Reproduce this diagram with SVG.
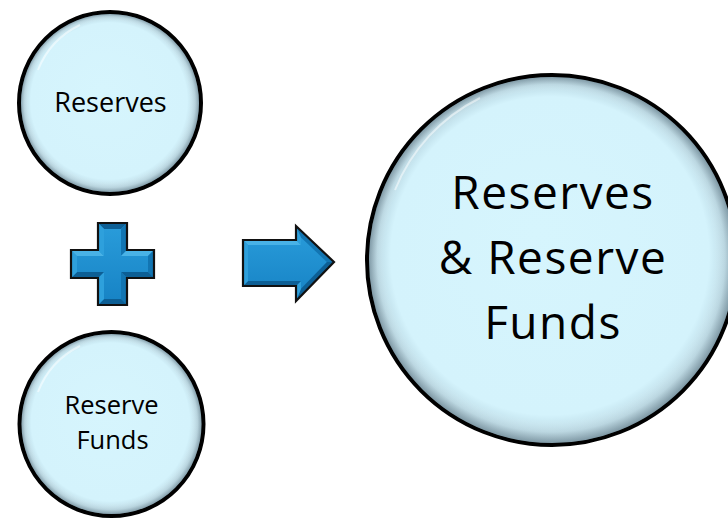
<svg xmlns="http://www.w3.org/2000/svg" width="728" height="518" viewBox="0 0 728 518">
  <style>
    .bubble { fill: url(#bubbleFill); stroke: #000; stroke-width: 4; }
    .rim { fill: url(#bubbleRim); }
    .gloss { fill: none; stroke: #ffffff; stroke-width: 2; opacity: 0.5; }
    .label { font-family: "Open Sans", "Noto Sans", "Liberation Sans", sans-serif; fill: #000; text-anchor: middle; }
    .small { font-size: 27px; }
    .small2 { font-size: 25.5px; }
    .big { font-size: 46px; letter-spacing: 1.5px; }
    .shape-outline { fill: none; stroke: #111; stroke-width: 2.2; stroke-linejoin: miter; }
    .face { fill: url(#blueFace); }
    .bev-top { fill: #49b2e6; }
    .bev-left { fill: #2ea0dc; }
    .bev-right { fill: #1275b2; }
    .bev-bottom { fill: #0d5f95; }
  </style>
  <defs>
    <radialGradient id="bubbleFill" cx="0.5" cy="0.5" r="0.5" fx="0.46" fy="0.42">
      <stop offset="0" stop-color="#d6f5fd"/>
      <stop offset="0.86" stop-color="#d4f3fc"/>
      <stop offset="0.94" stop-color="#bcdbe6"/>
      <stop offset="1" stop-color="#7d97a4"/>
    </radialGradient>
    <radialGradient id="bubbleRim" cx="0.5" cy="0.5" r="0.5" fx="0.42" fy="0.38">
      <stop offset="0.9" stop-color="#ffffff" stop-opacity="0"/>
      <stop offset="1" stop-color="#6f8894" stop-opacity="0.35"/>
    </radialGradient>
    <linearGradient id="blueFace" x1="0" y1="0" x2="0" y2="1">
      <stop offset="0" stop-color="#2a9ddb"/>
      <stop offset="1" stop-color="#1682c4"/>
    </linearGradient>
  </defs>

  <!-- left operand: Reserves -->
  <g id="node-reserves">
    <circle class="bubble" cx="110" cy="103" r="91"/>
    <circle class="rim" cx="110" cy="103" r="89"/>
    <path class="gloss" d="M 38 70 A 84 84 0 0 1 80 25"/>
    <text class="label small" x="110.5" y="112">Reserves</text>
  </g>

  <!-- left operand: Reserve Funds -->
  <g id="node-reserve-funds">
    <circle class="bubble" cx="111.5" cy="424" r="92"/>
    <circle class="rim" cx="111.5" cy="424" r="90"/>
    <path class="gloss" d="M 38 392 A 85 85 0 0 1 80 346"/>
    <text class="label small2"><tspan x="111.5" y="414">Reserve</tspan><tspan x="112.5" y="449">Funds</tspan></text>
  </g>

  <!-- result: Reserves & Reserve Funds -->
  <g id="node-result">
    <circle class="bubble" cx="552" cy="260" r="185"/>
    <circle class="rim" cx="552" cy="260" r="183"/>
    <path class="gloss" d="M 395 190 A 176 176 0 0 1 480 98"/>
    <text class="label big"><tspan x="553" y="209">Reserves</tspan><tspan x="553" y="274">&amp; Reserve</tspan><tspan x="553" y="339">Funds</tspan></text>
  </g>

  <!-- operators between the bubbles -->
  <g id="connectors">
    <g id="plus-sign">
      <polygon class="face" points="98,223 127,223 127,250 154,250 154,278 127,278 127,305 98,305 98,278 71,278 71,250 98,250"/>
      <!-- bevel facets -->
      <polygon class="bev-bottom" points="98,223 127,223 121,229 104,229"/>
      <polygon class="bev-right" points="127,223 127,250 121,256 121,229"/>
      <polygon class="bev-top" points="127,250 154,250 148,256 121,256"/>
      <polygon class="bev-right" points="154,250 154,278 148,272 148,256"/>
      <polygon class="bev-bottom" points="154,278 127,278 121,272 148,272"/>
      <polygon class="bev-right" points="127,278 127,305 121,299 121,272"/>
      <polygon class="bev-bottom" points="127,305 98,305 104,299 121,299"/>
      <polygon class="bev-left" points="98,305 98,278 104,272 104,299"/>
      <polygon class="bev-bottom" points="98,278 71,278 77,272 104,272"/>
      <polygon class="bev-left" points="71,278 71,250 77,256 77,272"/>
      <polygon class="bev-top" points="71,250 98,250 104,256 77,256"/>
      <polygon class="bev-left" points="98,250 98,223 104,229 104,256"/>
      <polygon class="shape-outline" points="98,223 127,223 127,250 154,250 154,278 127,278 127,305 98,305 98,278 71,278 71,250 98,250"/>
    </g>
    <g id="arrow">
      <polygon class="face" points="243,240 296,240 296,226 334,262 296,301 296,286 243,286"/>
      <!-- bevel facets -->
      <polygon class="bev-top" points="243,240 296,240 301,245 248,245"/>
      <polygon class="bev-left" points="296,240 296,226 301,237.6 301,245"/>
      <polygon class="bev-right" points="296,226 334,262 326.9,262 301,237.6"/>
      <polygon class="bev-bottom" points="334,262 296,301 301,288.7 326.9,262"/>
      <polygon class="bev-left" points="296,301 296,286 301,281 301,288.7"/>
      <polygon class="bev-bottom" points="296,286 243,286 248,281 301,281"/>
      <polygon class="bev-left" points="243,286 243,240 248,245 248,281"/>
      <polygon class="shape-outline" points="243,240 296,240 296,226 334,262 296,301 296,286 243,286"/>
    </g>
  </g>
</svg>
